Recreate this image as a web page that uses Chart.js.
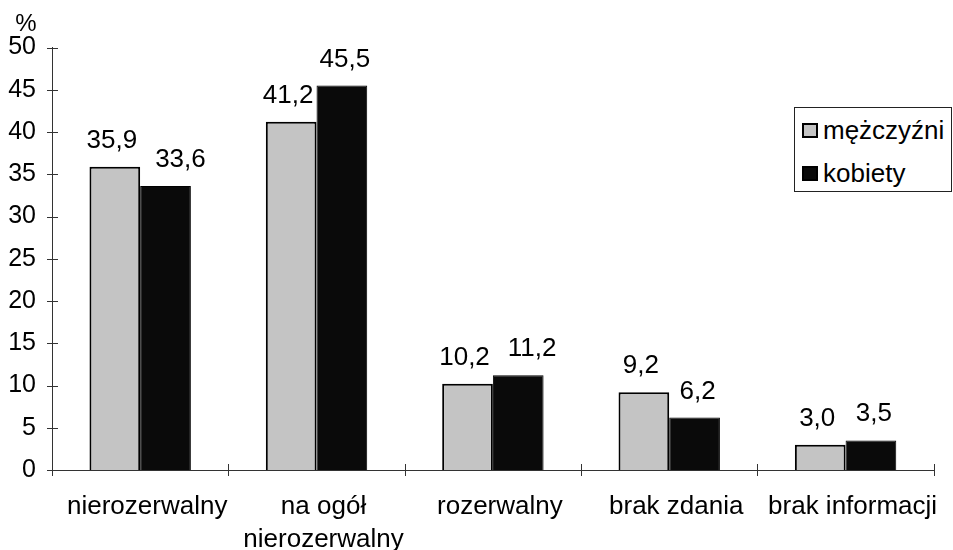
<!DOCTYPE html>
<html>
<head>
<meta charset="utf-8">
<script src="https://cdn.jsdelivr.net/npm/chart.js@4.4.1/dist/chart.umd.min.js"></script>
<style>
  html, body { margin: 0; padding: 0; background: #fff; }
  #wrap { position: relative; width: 953px; height: 550px; }
  #legend { position: absolute; left: 794px; top: 107px; width: 158px; height: 85px;
    border: 1px solid #222; background: #fff; font-family: "Liberation Sans", Arial, sans-serif;
    font-size: 26px; color: #000; box-sizing: border-box; }
  .item { position: absolute; left: 7px; display: flex; align-items: center; white-space: nowrap; }
  .sw { width: 16px; height: 15px; border: 2px solid #000; margin-right: 5px; box-sizing: border-box; }
</style>
</head>
<body>
<div id="wrap">
  <canvas id="c" width="953" height="550"></canvas>
  <div id="legend"></div>
</div>
<script>
const categories = ["nierozerwalny", ["na ogół", "nierozerwalny"], "rozerwalny", "brak zdania", "brak informacji"];
const seriesNames = ["mężczyźni", "kobiety"];
const men = [35.9, 41.2, 10.2, 9.2, 3.0];
const women = [33.6, 45.5, 11.2, 6.2, 3.5];
const yTicks = [0, 5, 10, 15, 20, 25, 30, 35, 40, 45, 50];
const yUnit = "%";

const FONT = "Liberation Sans, Arial, sans-serif";
const colors = ["#c4c4c4", "#0a0a0a"];

// legend (HTML, real text)
const leg = document.getElementById('legend');
seriesNames.forEach((n, i) => {
  const d = document.createElement('div');
  d.className = 'item';
  d.style.top = (i === 0 ? 7 : 50) + 'px';
  const s = document.createElement('span');
  s.className = 'sw';
  s.style.background = colors[i];
  d.appendChild(s);
  const t = document.createElement('span');
  t.textContent = n;
  d.appendChild(t);
  leg.appendChild(d);
});

const fmt = v => v.toFixed(1).replace('.', ',');

const decor = {
  id: 'decor',
  afterDraw(chart) {
    const ctx = chart.ctx;
    const ys = chart.scales.y;
    ctx.save();
    ctx.strokeStyle = '#333';
    ctx.lineWidth = 1;
    // y ticks crossing the axis
    yTicks.forEach(v => {
      const py = Math.round(ys.getPixelForValue(v)) + 0.5;
      ctx.beginPath(); ctx.moveTo(ys.right - 5, py); ctx.lineTo(ys.right + 6, py); ctx.stroke();
    });
    // x ticks at category boundaries
    const n = categories.length;
    const area = chart.chartArea;
    for (let i = 0; i <= n; i++) {
      const px = Math.round(area.left + (area.right - area.left) * i / n) + 0.5;
      ctx.beginPath(); ctx.moveTo(px, area.bottom - 6); ctx.lineTo(px, area.bottom + 6); ctx.stroke();
    }
    // unit label
    ctx.fillStyle = '#000';
    ctx.font = '24px ' + FONT;
    ctx.textAlign = 'center';
    ctx.textBaseline = 'alphabetic';
    ctx.fillText(yUnit, 26, 31);
    // value labels (nudged apart like the original when they would collide)
    ctx.font = '26px ' + FONT;
    const m0 = chart.getDatasetMeta(0), m1 = chart.getDatasetMeta(1);
    const d0 = chart.data.datasets[0].data, d1 = chart.data.datasets[1].data;
    for (let i = 0; i < categories.length; i++) {
      const b0 = m0.data[i], b1 = m1.data[i];
      const t0 = fmt(d0[i]), t1 = fmt(d1[i]);
      const w0 = ctx.measureText(t0).width, w1 = ctx.measureText(t1).width;
      const x0 = b0.x - 3, y0 = b0.y - 19;
      let x1 = b1.x + 3;
      const y1 = b1.y - 19;
      if (Math.abs(y0 - y1) < 22) {
        const minLeft = x0 + w0 / 2 + 18;
        if (x1 - w1 / 2 < minLeft) x1 = minLeft + w1 / 2;
      }
      ctx.fillText(t0, x0, y0);
      ctx.fillText(t1, x1, y1);
    }
    ctx.restore();
  }
};

new Chart(document.getElementById('c'), {
  type: 'bar',
  data: {
    labels: categories,
    datasets: [
      { label: seriesNames[0], data: men, backgroundColor: colors[0], borderColor: '#000', borderWidth: 2,
        categoryPercentage: 0.575, barPercentage: 1 },
      { label: seriesNames[1], data: women, backgroundColor: colors[1], borderColor: '#000', borderWidth: 1,
        categoryPercentage: 0.575, barPercentage: 1 }
    ]
  },
  options: {
    responsive: false,
    animation: false,
    devicePixelRatio: 1,
    layout: { padding: { top: 47.5, right: 19, left: 0, bottom: 0 } },
    plugins: { legend: { display: false }, tooltip: { enabled: false } },
    scales: {
      x: {
        offset: true,
        grid: { display: false, drawTicks: false },
        border: { display: true, color: '#333', width: 1 },
        ticks: { color: '#000', font: { family: FONT, size: 26, lineHeight: 1.25 }, padding: 21, labelOffset: 7, maxRotation: 0, autoSkip: false },
        afterFit(s) { s.height = 80; }
      },
      y: {
        min: 0, max: 50,
        afterBuildTicks(s) { s.ticks = yTicks.map(v => ({ value: v })); },
        grid: { display: false, drawTicks: false },
        border: { display: true, color: '#333', width: 1 },
        ticks: { color: '#000', font: { family: FONT, size: 25 }, padding: 16 },
        afterFit(s) { s.width = 52; }
      }
    }
  },
  plugins: [decor]
});
</script>
</body>
</html>
